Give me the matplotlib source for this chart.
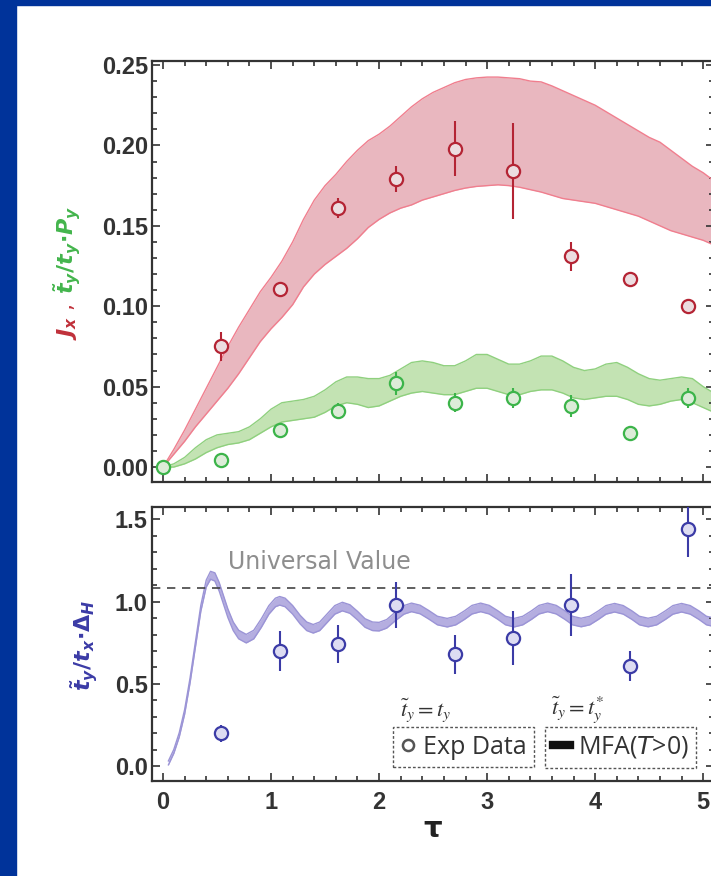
import matplotlib
matplotlib.use("Agg")
from matplotlib import pyplot as plt
from matplotlib.patches import Rectangle
from matplotlib.lines import Line2D
from matplotlib.ticker import MultipleLocator

plt.rcParams["mathtext.it"] = "DejaVu Sans:italic:bold"
plt.rcParams["mathtext.rm"] = "DejaVu Sans:bold"
plt.rcParams["mathtext.bf"] = "DejaVu Sans:bold"

# experimental points
tau_pts = [0.54, 1.08, 1.62, 2.16, 2.70, 3.24, 3.78, 4.32, 4.86]

jx = [0.075, 0.111, 0.161, 0.179, 0.198, 0.184, 0.131, 0.117, 0.100]
jx_err = [0.009, 0.003, 0.006, 0.008, 0.017, 0.030, 0.009, 0.004, 0.001]

py_tau = [0.0] + tau_pts
py = [0.0, 0.0045, 0.023, 0.035, 0.052, 0.040, 0.043, 0.038, 0.021, 0.043]
py_err = [0.0, 0.0, 0.0, 0.005, 0.007, 0.006, 0.006, 0.007, 0.0, 0.006]

dh = [0.20, 0.70, 0.74, 0.98, 0.68, 0.78, 0.98, 0.61, 1.44]
dh_err = [0.05, 0.12, 0.115, 0.14, 0.12, 0.165, 0.19, 0.09, 0.17]

# MFA bands, top panel
band_tau = [0.0, 0.1, 0.2, 0.3, 0.4, 0.5, 0.6, 0.7, 0.8, 0.9, 1.0, 1.1, 1.2, 1.3,
            1.4, 1.5, 1.6, 1.7, 1.8, 1.9, 2.0, 2.1, 2.2, 2.3, 2.4, 2.5, 2.6, 2.7,
            2.8, 2.9, 3.0, 3.1, 3.2, 3.3, 3.4, 3.5, 3.6, 3.7, 3.8, 3.9, 4.0, 4.1,
            4.2, 4.3, 4.4, 4.5, 4.6, 4.7, 4.8, 4.9, 5.0, 5.1]
jx_hi = [0.0, 0.011, 0.023, 0.036, 0.049, 0.062, 0.075, 0.087, 0.098, 0.109, 0.118,
         0.128, 0.140, 0.154, 0.166, 0.175, 0.182, 0.190, 0.197, 0.203, 0.207, 0.212,
         0.218, 0.224, 0.229, 0.233, 0.236, 0.239, 0.241, 0.242, 0.2425, 0.2425, 0.242,
         0.2415, 0.240, 0.2395, 0.237, 0.234, 0.231, 0.228, 0.225, 0.221, 0.217, 0.213,
         0.209, 0.205, 0.202, 0.197, 0.192, 0.187, 0.183, 0.178]
jx_lo = [0.0, 0.008, 0.016, 0.025, 0.033, 0.041, 0.049, 0.058, 0.068, 0.078, 0.086,
         0.093, 0.101, 0.112, 0.120, 0.126, 0.131, 0.136, 0.142, 0.149, 0.154, 0.158,
         0.161, 0.163, 0.166, 0.168, 0.170, 0.172, 0.1735, 0.1745, 0.175, 0.1755, 0.175,
         0.174, 0.1725, 0.171, 0.169, 0.167, 0.166, 0.165, 0.164, 0.162, 0.160, 0.158,
         0.156, 0.153, 0.150, 0.147, 0.145, 0.143, 0.141, 0.138]
py_hi = [0.0, 0.002, 0.006, 0.012, 0.017, 0.020, 0.021, 0.022, 0.025, 0.030, 0.036,
         0.040, 0.041, 0.042, 0.044, 0.048, 0.053, 0.056, 0.056, 0.055, 0.055, 0.057,
         0.061, 0.065, 0.066, 0.065, 0.063, 0.063, 0.066, 0.070, 0.070, 0.067, 0.064,
         0.064, 0.066, 0.069, 0.069, 0.066, 0.062, 0.060, 0.061, 0.064, 0.065, 0.062,
         0.058, 0.055, 0.054, 0.055, 0.056, 0.055, 0.050, 0.046]
py_lo = [0.0, 0.0, 0.002, 0.005, 0.009, 0.012, 0.014, 0.015, 0.017, 0.021, 0.025,
         0.028, 0.029, 0.030, 0.031, 0.034, 0.038, 0.040, 0.039, 0.037, 0.038, 0.041,
         0.044, 0.046, 0.047, 0.046, 0.045, 0.045, 0.047, 0.049, 0.049, 0.047, 0.045,
         0.045, 0.047, 0.048, 0.048, 0.046, 0.043, 0.042, 0.043, 0.044, 0.044, 0.042,
         0.039, 0.038, 0.039, 0.041, 0.042, 0.040, 0.037, 0.034]

# MFA band, bottom panel
dh_tau = [0.05, 0.10, 0.15, 0.20, 0.25, 0.30, 0.35, 0.40, 0.44, 0.48, 0.52, 0.56,
          0.60, 0.65, 0.70, 0.77, 0.84, 0.91, 0.98, 1.04, 1.08, 1.13, 1.20, 1.27,
          1.33, 1.39, 1.45, 1.52, 1.59, 1.66, 1.73, 1.80, 1.87, 1.94, 2.00, 2.07,
          2.15, 2.23, 2.30, 2.38, 2.46, 2.54, 2.63, 2.71, 2.79, 2.86, 2.94, 3.02,
          3.10, 3.17, 3.25, 3.33, 3.41, 3.48, 3.56, 3.64, 3.72, 3.79, 3.87, 3.95,
          4.03, 4.10, 4.18, 4.26, 4.34, 4.41, 4.49, 4.57, 4.65, 4.72, 4.80, 4.88,
          4.96, 5.03, 5.11]
dh_mid = [0.02, 0.09, 0.19, 0.33, 0.52, 0.74, 0.96, 1.11, 1.16, 1.15, 1.09, 1.01,
          0.93, 0.85, 0.80, 0.775, 0.80, 0.87, 0.95, 0.995, 1.005, 0.995, 0.95, 0.89,
          0.85, 0.835, 0.85, 0.90, 0.95, 0.97, 0.955, 0.915, 0.87, 0.85, 0.848, 0.865,
          0.91, 0.95, 0.965, 0.952, 0.92, 0.885, 0.872, 0.885, 0.918, 0.951, 0.965, 0.951,
          0.918, 0.885, 0.872, 0.885, 0.918, 0.951, 0.965, 0.951, 0.918, 0.885, 0.873, 0.885,
          0.918, 0.950, 0.963, 0.950, 0.918, 0.885, 0.873, 0.885, 0.918, 0.950, 0.963, 0.950,
          0.918, 0.885, 0.873]
dh_half = [0.012, 0.012, 0.013, 0.014, 0.015, 0.016, 0.018, 0.021, 0.024, 0.025, 0.026, 0.026,
           0.026, 0.026, 0.026, 0.026, 0.026, 0.026, 0.026, 0.026, 0.026, 0.026, 0.026, 0.026,
           0.026, 0.026, 0.026, 0.026, 0.026, 0.026, 0.026, 0.026, 0.026, 0.026, 0.026, 0.026,
           0.026, 0.026, 0.026, 0.026, 0.026, 0.026, 0.026, 0.026, 0.026, 0.026, 0.026, 0.026,
           0.026, 0.026, 0.026, 0.026, 0.026, 0.026, 0.026, 0.026, 0.026, 0.026, 0.026, 0.026,
           0.026, 0.026, 0.026, 0.026, 0.026, 0.026, 0.026, 0.026, 0.026, 0.026, 0.026, 0.026,
           0.026, 0.026, 0.026]
universal = 1.085

W, H = 711, 876
fig = plt.figure(figsize=(W / 100, H / 100), dpi=100)
fig.patch.set_facecolor("white")

# dark blue frame on the left and top
fig.patches.append(Rectangle((0, 0), 16 / W, 1, transform=fig.transFigure,
                             color="#00339a", zorder=0))
fig.patches.append(Rectangle((0, 1 - 5 / H), 1, 5 / H, transform=fig.transFigure,
                             color="#00339a", zorder=0))

ax1 = fig.add_axes([152 / W, 1 - 482 / H, 562 / W, 421 / H])
ax2 = fig.add_axes([152 / W, 1 - 781 / H, 562 / W, 274 / H])

tick_font = dict(family="Liberation Sans", weight="bold", size=17)
for ax in (ax1, ax2):
    ax.set_xlim(-0.102, 5.10)
    ax.xaxis.set_major_locator(MultipleLocator(1))
    ax.xaxis.set_minor_locator(MultipleLocator(0.2))
    ax.tick_params(which="both", direction="in", top=True, right=True,
                   colors="#333333", width=1.2)
    ax.tick_params(which="major", length=6)
    ax.tick_params(which="minor", length=3.5)
    ax.tick_params(axis="y", pad=3)
    ax.tick_params(axis="x", pad=7)
    for s in ax.spines.values():
        s.set_color("#333333")
        s.set_linewidth(1.6)

# top panel
ax1.set_ylim(-0.0093, 0.2525)
ax1.yaxis.set_major_locator(MultipleLocator(0.05))
ax1.yaxis.set_minor_locator(MultipleLocator(0.01))
ax1.tick_params(axis="x", labelbottom=False)

ax1.fill_between(band_tau, jx_lo, jx_hi, color="#e9b7bf", lw=0, zorder=1)
ax1.plot(band_tau, jx_hi, color="#f07e8e", lw=1.0, zorder=2)
ax1.plot(band_tau, jx_lo, color="#f07e8e", lw=1.0, zorder=2)
ax1.fill_between(band_tau, py_lo, py_hi, color="#c3e3b3", lw=0, zorder=1)
ax1.plot(band_tau, py_hi, color="#8fd07e", lw=1.0, zorder=2)
ax1.plot(band_tau, py_lo, color="#8fd07e", lw=1.0, zorder=2)

ax1.errorbar(tau_pts, jx, yerr=jx_err, fmt="o", ms=9.5, mfc="#ecdde0", mec="#b42434",
             mew=1.6, ecolor="#b42434", elinewidth=1.5, capsize=0, zorder=4)
ax1.errorbar(py_tau, py, yerr=py_err, fmt="o", ms=9.5, mfc="#dcecd8", mec="#3cb44a",
             mew=1.6, ecolor="#3cb44a", elinewidth=1.5, capsize=0, zorder=4)

# bottom panel
ax2.set_ylim(-0.09, 1.575)
ax2.yaxis.set_major_locator(MultipleLocator(0.5))
ax2.yaxis.set_minor_locator(MultipleLocator(0.1))

dh_lo = [m - h for m, h in zip(dh_mid, dh_half)]
dh_hi = [m + h for m, h in zip(dh_mid, dh_half)]
ax2.fill_between(dh_tau, dh_lo, dh_hi, color="#b5aee0", lw=0, zorder=1)
ax2.plot(dh_tau, dh_hi, color="#9b94d6", lw=1.0, zorder=2)
ax2.plot(dh_tau, dh_lo, color="#9b94d6", lw=1.0, zorder=2)
ax2.axhline(universal, color="#444444", lw=1.2, ls=(0, (5, 4)), zorder=2)
ax2.text(0.6, universal + 0.08, "Universal Value", color="#8e8e8e", fontsize=17,
         family="DejaVu Sans", va="bottom", ha="left")

ax2.errorbar(tau_pts, dh, yerr=dh_err, fmt="o", ms=9.5, mfc="#dddcf2", mec="#3b3ba6",
             mew=1.6, ecolor="#3b3ba6", elinewidth=1.5, capsize=0, zorder=4)

for ax in (ax1, ax2):
    for lab in ax.get_xticklabels() + ax.get_yticklabels():
        lab.set_fontproperties(tick_font)

ax2.set_xlabel("τ", fontsize=21, fontweight="bold", family="DejaVu Sans",
               color="#222222", labelpad=1)

# y labels (two colours in the top one)
ylab_kw = dict(rotation=90, fontsize=16, ha="center", va="center", math_fontfamily="custom")
fig.text(67 / W, 1 - 322 / H, r"$J_x$ ,", color="#c0303a", **ylab_kw)
fig.text(67 / W, 1 - 250 / H, r"$\tilde{t}_y/t_y{\cdot}P_y$", color="#43b54c", **ylab_kw)
fig.text(84 / W, 1 - 645 / H, r"$\tilde{t}_y/t_x{\cdot}\Delta_H$", color="#3b3ba6", **ylab_kw)

# legends
fig.text(425 / W, 1 - 710 / H, r"$\tilde{t}_y = t_y$", fontsize=16, color="#333333",
         ha="center", va="center", math_fontfamily="stix")
fig.text(578 / W, 1 - 710 / H, r"$\tilde{t}_y = t^{*}_y$", fontsize=16, color="#333333",
         ha="center", va="center", math_fontfamily="stix")

h1 = Line2D([], [], ls="none", marker="o", ms=8, mfc="white", mec="#555555", mew=1.8)
h2 = Line2D([], [], color="#111111", lw=6)
leg_kw = dict(loc="upper left", bbox_transform=fig.transFigure, borderaxespad=0,
              fancybox=False, framealpha=1, edgecolor="#555555", handletextpad=0.3,
              borderpad=0.3, prop=dict(family="Open Sans", size=18))
leg1 = ax2.legend([h1], ["Exp Data"], bbox_to_anchor=(393 / W, 1 - 727 / H),
                  handlelength=0.6, **leg_kw)
ax2.add_artist(leg1)
leg2 = ax2.legend([h2], [r"MFA($T$>0)"], bbox_to_anchor=(545 / W, 1 - 727 / H),
                  handlelength=0.7, **leg_kw)
for leg in (leg1, leg2):
    fr = leg.get_frame()
    fr.set_linestyle((0, (2, 1.5)))
    fr.set_linewidth(1.0)
    for t in leg.get_texts():
        t.set_color("#333333")

fig.savefig("out.png", dpi=100)
